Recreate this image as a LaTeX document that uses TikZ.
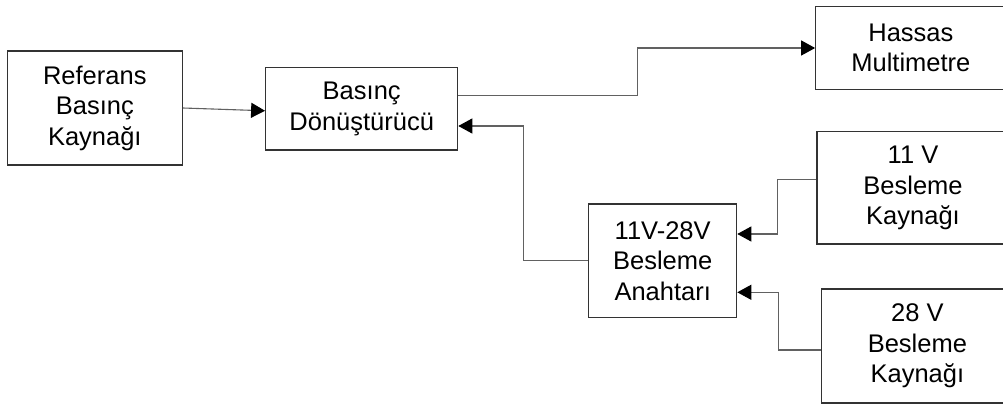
\documentclass[tikz,border=0pt]{standalone}
\usepackage{fontspec}
\setmainfont{Liberation Sans}
\usetikzlibrary{arrows.meta}
\begin{document}
\begin{tikzpicture}[x=1pt,y=1pt,
  box/.style={draw=black!80, line width=1.2pt, rectangle, align=center, inner sep=0pt,
    font=\fontsize{25.5}{30.5}\selectfont},
  conn/.style={draw=black!62, line width=1.1pt, -{Triangle[length=14pt,width=15pt,color=black]}}]
\useasboundingbox (0,0) rectangle (1003,-406);
\clip (0,0) rectangle (1003,-406);
\node[box, minimum width=175pt, minimum height=114pt] (ref) at (94.8,-108) {Referans\\Basınç\\Kaynağı};
\node[box, minimum width=192pt, minimum height=82.3pt] (bas) at (361.7,-108.8) {Basınç\\Dönüştürücü};
\node[box, minimum width=190.3pt, minimum height=82.6pt] (has) at (910.9,-48) {Hassas\\Multimetre};
\node[box, minimum width=192pt, minimum height=112.3pt] (v11) at (913,-187.9) {11 V\\Besleme\\Kaynağı};
\node[box, minimum width=148pt, minimum height=113.7pt] (anah) at (662.7,-260.8) {11V-28V\\Besleme\\Anahtarı};
\node[box, minimum width=191.3pt, minimum height=114pt] (v28) at (917.4,-346) {28 V\\Besleme\\Kaynağı};
\draw[conn] (ref.east) -- ([yshift=-2pt]bas.west);
\draw[conn] ([yshift=13pt]bas.east) -| ([xshift=-177.4pt]has.west) -- (has.west);
\draw[conn] (anah.west) -| ([xshift=65.3pt,yshift=-17.2pt]bas.east) -- ([yshift=-17.2pt]bas.east);
\draw[conn] ([yshift=8pt]v11.west) -| ([xshift=40.3pt,yshift=26.8pt]anah.east) -- ([yshift=26.8pt]anah.east);
\draw[conn] ([yshift=-4pt]v28.west) -| ([xshift=41.3pt,yshift=-31.5pt]anah.east) -- ([yshift=-31.5pt]anah.east);
\end{tikzpicture}
\end{document}
